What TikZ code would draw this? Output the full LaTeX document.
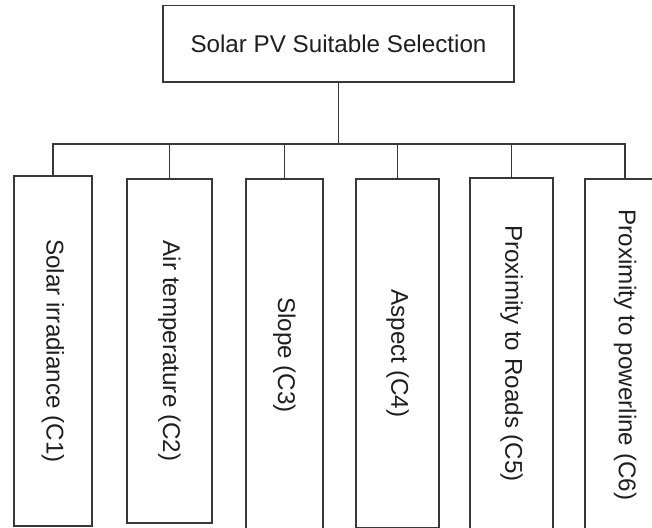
\documentclass[tikz,border=0pt]{standalone}
\usepackage{fontspec}
\setmainfont{Liberation Sans}
\usepackage{graphicx}
\begin{document}
\begin{tikzpicture}[x=1pt,y=-1pt,
  every node/.style={font=\fontsize{24.2}{29}\selectfont, text=black!88},
  box/.style={draw=black!78, line width=1.1pt, inner sep=0pt, rectangle},
  link/.style={draw=black!78, line width=1.1pt}]
\clip (0,0) rectangle (652,527);
\fill[white] (0,0) rectangle (652,527);
\node[box, minimum width=351pt, minimum height=76.5pt] (top) at (338.5,43.75) {Solar PV Suitable Selection};
\node[box, minimum width=78pt, minimum height=350pt] (c1) at (53,351) {\rotatebox{-90}{Solar irradiance (C1)}};
\node[box, minimum width=85pt, minimum height=344pt] (c2) at (169.5,351) {\rotatebox{-90}{Air temperature (C2)}};
\node[box, minimum width=77pt, minimum height=352pt] (c3) at (284.5,355) {\rotatebox{-90}{Slope (C3)}};
\node[box, minimum width=83pt, minimum height=349pt] (c4) at (397.5,353.5) {\rotatebox{-90}{Aspect (C4)}};
\node[box, minimum width=83pt, minimum height=351pt] (c5) at (511.5,353.5) {\rotatebox{-90}{Proximity to Roads (C5)}};
\node[box, minimum width=80pt, minimum height=352pt] (c6) at (625,355) {\rotatebox{-90}{Proximity to powerline (C6)}};
\coordinate (bus) at (338.5,144);
\draw[link] (top.south) -- (bus);
\draw[link] (c1.north) |- (bus) -| (c6.north);
\foreach \n in {c2,c3,c4,c5} \draw[link] (\n.north) -- (\n.north |- bus);
\end{tikzpicture}
\end{document}
